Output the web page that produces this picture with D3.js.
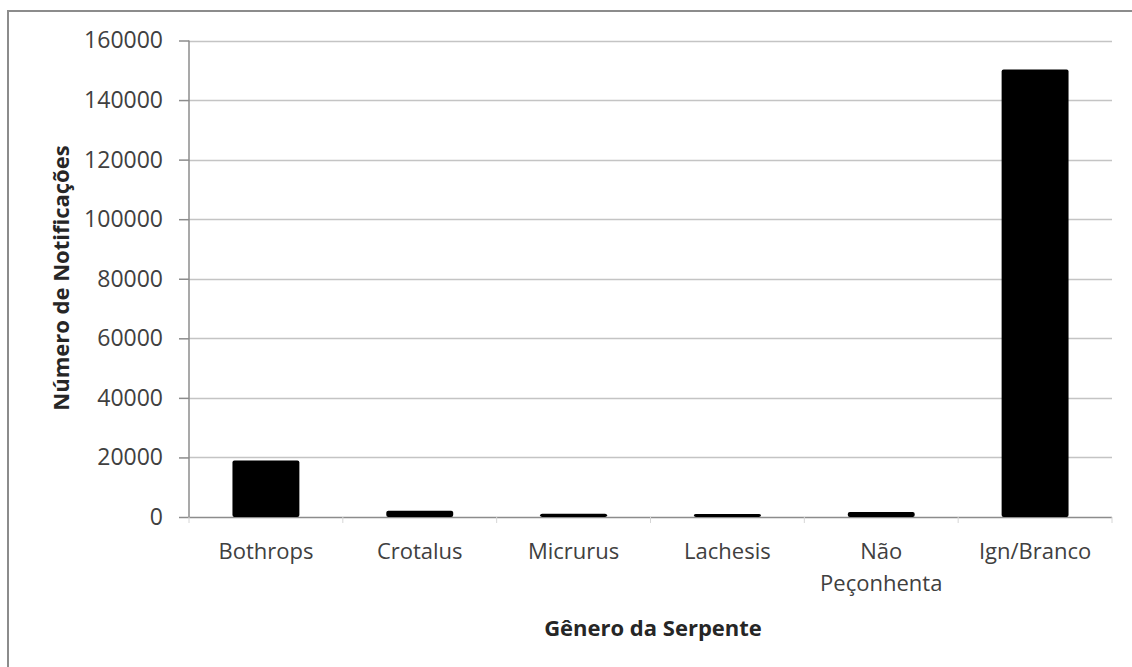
<!DOCTYPE html>
<html><head><meta charset="utf-8">
<script src="https://cdn.jsdelivr.net/npm/d3@7"></script>
<style>body{margin:0;background:#fff}svg{display:block}</style>
</head><body>
<svg id="c" width="1132" height="667"></svg>
<script>
const categories = ["Bothrops","Crotalus","Micrurus","Lachesis","Não Peçonhenta","Ign/Branco"];
const categoryLines = [["Bothrops"],["Crotalus"],["Micrurus"],["Lachesis"],["Não","Peçonhenta"],["Ign/Branco"]];
const values = [19000, 2100, 1100, 1000, 1700, 150300];
const yTicks = [0,20000,40000,60000,80000,100000,120000,140000,160000];
const yTitle = "Número de Notificações";
const xTitle = "Gênero da Serpente";

const svg = d3.select("#c");
const font = "'Open Sans', sans-serif";
// frame
svg.append("rect").attr("x",8).attr("y",11).attr("width",1200).attr("height",700)
  .attr("fill","none").attr("stroke","#8c8c8c").attr("stroke-width",2);

const x0 = 189, x1 = 1112, yTop = 40.5, yBot = 517;
const x = d3.scaleBand().domain(categories).range([x0,x1]).paddingInner(0.565).paddingOuter(0.2825);
const y = d3.scaleLinear().domain([0,160000]).range([yBot,yTop]);

// gridlines
svg.append("g").selectAll("line").data(yTicks.filter(d=>d>0)).join("line")
  .attr("x1",x0).attr("x2",x1).attr("y1",d=>Math.round(y(d))+0.5).attr("y2",d=>Math.round(y(d))+0.5)
  .attr("stroke","#c4c4c4").attr("stroke-width",1.5);

// y axis
const ya = d3.axisLeft(y).tickValues(yTicks).tickSize(10).tickPadding(16).tickFormat(d3.format("d"));
const gy = svg.append("g").attr("transform",`translate(${x0},0)`).call(ya);
gy.select(".domain").attr("stroke","#8c8c8c").attr("stroke-width",1.5).attr("d",`M-0,${yBot}V${yTop}`);
gy.selectAll(".tick line").attr("stroke","#8c8c8c").attr("stroke-width",1.5);
gy.selectAll(".tick text").attr("font-family",font).attr("font-size",23).attr("fill","#404040");

// x axis baseline
const xa = d3.axisBottom(x).tickSize(0).tickFormat("");
const gx = svg.append("g").attr("transform",`translate(0,${yBot})`).call(xa);
gx.select(".domain").attr("stroke","#8c8c8c").attr("stroke-width",1.5).attr("d",`M${x0},0.5H${x1}`);
// boundary ticks
svg.append("g").selectAll("line").data(d3.range(categories.length+1)).join("line")
  .attr("x1",i=>x0+i*(x1-x0)/categories.length).attr("x2",i=>x0+i*(x1-x0)/categories.length)
  .attr("y1",yBot).attr("y2",yBot+6).attr("stroke","#d6d6d6").attr("stroke-width",1);

// bars
svg.append("g").selectAll("rect").data(categories).join("rect")
  .attr("x",d=>x(d)).attr("width",x.bandwidth())
  .attr("y",(d,i)=>y(values[i])).attr("height",(d,i)=>yBot-y(values[i]))
  .attr("fill","#000").attr("rx",2);

// category labels
const lab = svg.append("g").selectAll("text").data(categories).join("text")
  .attr("x",d=>x(d)+x.bandwidth()/2).attr("y",559)
  .attr("text-anchor","middle").attr("font-family",font).attr("font-size",22).attr("fill","#404040");
lab.each(function(d,i){
  const t = d3.select(this);
  categoryLines[i].forEach((s,j)=>t.append("tspan").attr("x",x(d)+x.bandwidth()/2).attr("dy",j?32:0).text(s));
});

// titles
svg.append("text").attr("x",653).attr("y",636).attr("text-anchor","middle")
  .attr("font-family",font).attr("font-size",22).attr("font-weight","bold").attr("fill","#262626").text(xTitle);
svg.append("text").attr("transform","translate(69,278) rotate(-90)").attr("text-anchor","middle")
  .attr("font-family",font).attr("font-size",22).attr("font-weight","bold").attr("fill","#262626").text(yTitle);
</script>
</body></html>
